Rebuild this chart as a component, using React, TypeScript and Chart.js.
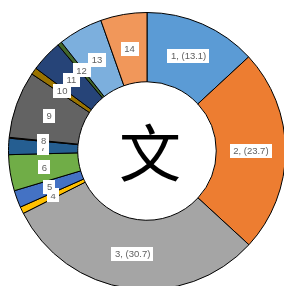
import React, { useEffect, useRef } from "react";
import { Chart, registerables } from "chart.js";

Chart.register(...registerables);

const categories = ["1", "2", "3", "4", "5", "6", "7", "8", "9", "10", "11", "12", "13", "14"];
const values = [13.1, 23.7, 30.7, 0.8, 2.0, 4.2, 1.9, 0.1, 7.8, 0.8, 3.7, 0.5, 5.2, 5.4];
const colors = [
  "#5B9BD5", "#ED7D31", "#A5A5A5", "#FFC000", "#4472C4", "#70AD47", "#255E91",
  "#9E480E", "#636363", "#997300", "#264478", "#43682B", "#7CAFDD", "#F1975A",
];
const centerText = "文";

const labelPlugin = {
  id: "sliceLabels",
  afterDatasetsDraw(chart: any) {
    const ctx = chart.ctx;
    const meta = chart.getDatasetMeta(0);
    ctx.save();
    ctx.font = "9.5px 'Liberation Sans', Arial, sans-serif";
    ctx.textAlign = "center";
    ctx.textBaseline = "middle";
    meta.data.forEach((arc: any, i: number) => {
      const v = values[i];
      const text = v >= 10 ? `${categories[i]}, (${v})` : categories[i];
      const p = arc.tooltipPosition();
      const w = ctx.measureText(text).width + 7;
      const h = 14;
      ctx.fillStyle = "#ffffff";
      ctx.fillRect(Math.round(p.x - w / 2), Math.round(p.y - h / 2), Math.round(w), h);
      ctx.fillStyle = "#606060";
      ctx.fillText(text, p.x, p.y + 0.5);
    });
    ctx.restore();
  },
};

const centerPlugin = {
  id: "centerText",
  afterDraw(chart: any) {
    const ctx = chart.ctx;
    const meta = chart.getDatasetMeta(0);
    const arc: any = meta.data[0];
    if (!arc) return;
    ctx.save();
    ctx.font = "62px 'Noto Sans CJK SC', sans-serif";
    ctx.fillStyle = "#000000";
    ctx.textAlign = "center";
    ctx.textBaseline = "middle";
    ctx.fillText(centerText, arc.x + 3, arc.y + 2);
    ctx.restore();
  },
};

export default function App() {
  const ref = useRef<HTMLCanvasElement>(null);
  useEffect(() => {
    if (!ref.current) return;
    const chart = new Chart(ref.current, {
      type: "doughnut",
      data: {
        labels: categories,
        datasets: [
          {
            data: values,
            backgroundColor: colors,
            borderColor: "#000000",
            borderWidth: 1,
          },
        ],
      },
      options: {
        responsive: false,
        animation: false,
        cutout: "50%",
        layout: { padding: 0 },
        plugins: {
          legend: { display: false },
          tooltip: { enabled: false },
        },
      },
      plugins: [labelPlugin, centerPlugin],
    });
    return () => chart.destroy();
  }, []);
  return (
    <div style={{ position: "absolute", left: 8, top: 12, width: 278, height: 278 }}>
      <canvas ref={ref} width={278} height={278} />
    </div>
  );
}
